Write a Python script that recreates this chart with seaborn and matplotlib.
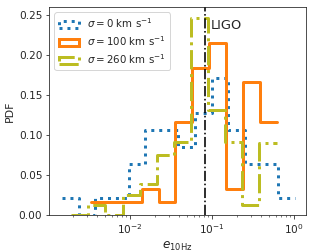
import numpy as np
import matplotlib
matplotlib.use("Agg")
import matplotlib.pyplot as plt
from matplotlib.patches import Patch
import seaborn as sns

# bin ranges (in e_10Hz) and PDF values
blue_range = (0.00149, 1.02)
blue_pdf = [0.021, 0.0, 0.021, 0.021, 0.064, 0.106, 0.106,
            0.085, 0.128, 0.171, 0.107, 0.064, 0.064, 0.021]

orange_range = (0.00332, 0.625)
orange_pdf = [0.016, 0.016, 0.016, 0.0325, 0.016, 0.117,
              0.184, 0.215, 0.033, 0.167, 0.117]

olive_range = (0.00192, 0.615)
olive_pdf = [0.0, 0.0125, 0.0, 0.025, 0.0387, 0.075,
             0.091, 0.246, 0.131, 0.092, 0.0125, 0.09]

labels = [r"$\sigma = 0$ km s$^{-1}$",
          r"$\sigma = 100$ km s$^{-1}$",
          r"$\sigma = 260$ km s$^{-1}$"]
colors = ["tab:blue", "tab:orange", "tab:olive"]
styles = [":", "-", "-."]

e_ligo = 0.082

sns.set_style("ticks")
plt.rcParams["font.family"] = ["DejaVu Sans"]

fig = plt.figure(figsize=(4.375, 3.5), dpi=72)
ax = fig.add_axes([0.1565, 0.1468, 0.8145, 0.8242])

series = [(blue_range, blue_pdf), (orange_range, orange_pdf), (olive_range, olive_pdf)]
for (rng, pdf), c, ls in zip(series, colors, styles):
    edges = np.linspace(np.log10(rng[0]), np.log10(rng[1]), len(pdf) + 1)
    centers = 10 ** (0.5 * (edges[:-1] + edges[1:]))
    sns.histplot(x=centers, weights=pdf, bins=edges.tolist(), log_scale=True,
                 element="step", fill=False, color=c, linestyle=ls,
                 linewidth=3, ax=ax)

ax.axvline(e_ligo, color="k", linestyle="-.", linewidth=1.6)
ax.text(0.096, 0.233, "LIGO", fontsize=13, va="baseline")

ax.set_xlim(10 ** -2.984, 10 ** 0.146)
ax.set_ylim(0, 0.26)
ax.set_yticks([0, 0.05, 0.10, 0.15, 0.20, 0.25])
ax.tick_params(labelsize=10.5)
ax.set_xlabel(r"$e_{\rm 10Hz}$", fontsize=12)
ax.set_ylabel("PDF", fontsize=11)
for s in ["top", "right"]:
    ax.spines[s].set_visible(True)

handles = [Patch(facecolor="none", edgecolor=c, linestyle=ls, linewidth=3, label=l)
           for c, ls, l in zip(colors, styles, labels)]
ax.legend(handles=handles, loc="upper left", fontsize=10.3, labelspacing=0.4)

fig.savefig("out.png", dpi=72)
